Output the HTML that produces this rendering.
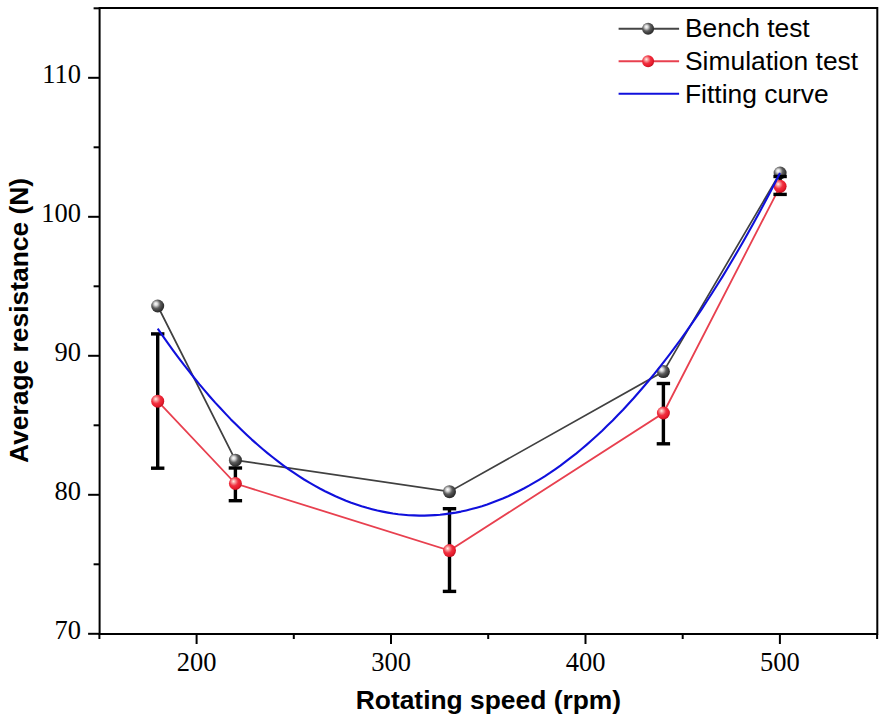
<!DOCTYPE html>
<html><head><meta charset="utf-8"><style>
html,body{margin:0;padding:0;background:#fff;width:886px;height:723px;overflow:hidden}
svg{display:block}
.t{font-family:"Liberation Serif",serif;font-size:26.5px;fill:#000}
.s{font-family:"Liberation Sans",sans-serif;font-size:26.4px;fill:#000}
.b{font-family:"Liberation Sans",sans-serif;font-size:26.4px;font-weight:bold;fill:#000}
</style></head><body>
<svg width="886" height="723" viewBox="0 0 886 723">
<defs>
<radialGradient id="gg" cx="0.4" cy="0.38" r="0.6" fx="0.35" fy="0.33">
<stop offset="0" stop-color="#ffffff"/><stop offset="0.22" stop-color="#d8d8d8"/><stop offset="0.55" stop-color="#5e5e5e"/><stop offset="0.85" stop-color="#3a3a3a"/><stop offset="1" stop-color="#2c2c2c"/></radialGradient>
<radialGradient id="rg" cx="0.4" cy="0.38" r="0.6" fx="0.35" fy="0.33">
<stop offset="0" stop-color="#fff4e8"/><stop offset="0.22" stop-color="#f8a0a0"/><stop offset="0.55" stop-color="#f03040"/><stop offset="0.85" stop-color="#e81c2c"/><stop offset="1" stop-color="#c81424"/></radialGradient>
</defs>

<g stroke="#000" stroke-width="2" fill="none" stroke-linecap="butt">
<rect x="99.6" y="8.0" width="777.6999999999999" height="626.0"/>
<line x1="88.1" y1="633.8" x2="99.6" y2="633.8"/>
<line x1="93.6" y1="564.3" x2="99.6" y2="564.3"/>
<line x1="88.1" y1="494.8" x2="99.6" y2="494.8"/>
<line x1="93.6" y1="425.3" x2="99.6" y2="425.3"/>
<line x1="88.1" y1="355.8" x2="99.6" y2="355.8"/>
<line x1="93.6" y1="286.3" x2="99.6" y2="286.3"/>
<line x1="88.1" y1="216.8" x2="99.6" y2="216.8"/>
<line x1="93.6" y1="147.3" x2="99.6" y2="147.3"/>
<line x1="88.1" y1="77.8" x2="99.6" y2="77.8"/>
<line x1="93.6" y1="8.3" x2="99.6" y2="8.3"/>
<line x1="99.4" y1="634.0" x2="99.4" y2="639.0"/>
<line x1="196.6" y1="634.0" x2="196.6" y2="644.0"/>
<line x1="293.8" y1="634.0" x2="293.8" y2="639.0"/>
<line x1="391.0" y1="634.0" x2="391.0" y2="644.0"/>
<line x1="488.2" y1="634.0" x2="488.2" y2="639.0"/>
<line x1="585.5" y1="634.0" x2="585.5" y2="644.0"/>
<line x1="682.7" y1="634.0" x2="682.7" y2="639.0"/>
<line x1="779.9" y1="634.0" x2="779.9" y2="644.0"/>
<line x1="877.1" y1="634.0" x2="877.1" y2="639.0"/>
</g>
<text class="t" x="81" y="638.8" text-anchor="end">70</text>
<text class="t" x="81" y="499.8" text-anchor="end">80</text>
<text class="t" x="81" y="360.8" text-anchor="end">90</text>
<text class="t" x="81" y="221.8" text-anchor="end">100</text>
<text class="t" x="81" y="82.8" text-anchor="end">110</text>
<text class="t" x="196.6" y="671" text-anchor="middle">200</text>
<text class="t" x="391.0" y="671" text-anchor="middle">300</text>
<text class="t" x="585.5" y="671" text-anchor="middle">400</text>
<text class="t" x="779.9" y="671" text-anchor="middle">500</text>
<text class="b" x="488.4" y="709" text-anchor="middle">Rotating speed (rpm)</text>
<text class="b" transform="translate(27.5,320.4) rotate(-90)" x="0" y="0" text-anchor="middle">Average resistance (N)</text>
<polyline fill="none" stroke="#404040" stroke-width="1.7" points="157.7,306.0 235.4,460.2 449.5,491.7 663.4,371.6 780.1,173.0"/>
<circle cx="157.7" cy="306.0" r="6.5" fill="url(#gg)"/>
<circle cx="235.4" cy="460.2" r="6.5" fill="url(#gg)"/>
<circle cx="449.5" cy="491.7" r="6.5" fill="url(#gg)"/>
<circle cx="663.4" cy="371.6" r="6.5" fill="url(#gg)"/>
<circle cx="780.1" cy="173.0" r="6.5" fill="url(#gg)"/>
<polyline fill="none" stroke="#e8404f" stroke-width="1.8" points="157.7,401.2 235.4,483.5 449.5,550.6 663.4,413.0 780.1,186.3"/>
<g stroke="#000" stroke-width="3.4" fill="none">
<line x1="157.7" y1="333.9" x2="157.7" y2="468.2"/><line x1="151.0" y1="333.9" x2="164.39999999999998" y2="333.9"/><line x1="151.0" y1="468.2" x2="164.39999999999998" y2="468.2"/>
<line x1="235.4" y1="468.0" x2="235.4" y2="500.7"/><line x1="228.70000000000002" y1="468.0" x2="242.1" y2="468.0"/><line x1="228.70000000000002" y1="500.7" x2="242.1" y2="500.7"/>
<line x1="449.5" y1="508.7" x2="449.5" y2="591.4"/><line x1="442.8" y1="508.7" x2="456.2" y2="508.7"/><line x1="442.8" y1="591.4" x2="456.2" y2="591.4"/>
<line x1="663.4" y1="383.5" x2="663.4" y2="443.8"/><line x1="656.6999999999999" y1="383.5" x2="670.1" y2="383.5"/><line x1="656.6999999999999" y1="443.8" x2="670.1" y2="443.8"/>
<line x1="780.1" y1="176.5" x2="780.1" y2="194.4"/><line x1="773.4" y1="176.5" x2="786.8000000000001" y2="176.5"/><line x1="773.4" y1="194.4" x2="786.8000000000001" y2="194.4"/>
</g>
<circle cx="157.7" cy="401.2" r="6.5" fill="url(#rg)"/>
<circle cx="235.4" cy="483.5" r="6.5" fill="url(#rg)"/>
<circle cx="449.5" cy="550.6" r="6.5" fill="url(#rg)"/>
<circle cx="663.4" cy="413.0" r="6.5" fill="url(#rg)"/>
<circle cx="780.1" cy="186.3" r="6.5" fill="url(#rg)"/>
<polyline fill="none" stroke="#1010dc" stroke-width="2.1" stroke-linejoin="round" points="157.7,328.7 162.9,336.2 168.2,343.6 173.4,350.8 178.6,357.8 183.8,364.7 189.1,371.4 194.3,378.0 199.5,384.4 204.8,390.6 210.0,396.7 215.2,402.6 220.5,408.3 225.7,413.9 230.9,419.4 236.1,424.6 241.4,429.8 246.6,434.8 251.8,439.6 257.1,444.2 262.3,448.8 267.5,453.1 272.7,457.3 278.0,461.4 283.2,465.3 288.4,469.1 293.7,472.7 298.9,476.1 304.1,479.5 309.4,482.6 314.6,485.6 319.8,488.5 325.0,491.2 330.3,493.8 335.5,496.3 340.7,498.5 346.0,500.7 351.2,502.7 356.4,504.5 361.6,506.2 366.9,507.8 372.1,509.2 377.3,510.5 382.6,511.6 387.8,512.6 393.0,513.5 398.3,514.2 403.5,514.7 408.7,515.2 413.9,515.4 419.2,515.6 424.4,515.6 429.6,515.4 434.9,515.1 440.1,514.7 445.3,514.1 450.5,513.4 455.8,512.6 461.0,511.6 466.2,510.4 471.5,509.1 476.7,507.7 481.9,506.2 487.2,504.5 492.4,502.6 497.6,500.6 502.8,498.5 508.1,496.2 513.3,493.8 518.5,491.2 523.8,488.5 529.0,485.7 534.2,482.7 539.4,479.6 544.7,476.3 549.9,472.9 555.1,469.3 560.4,465.6 565.6,461.7 570.8,457.7 576.1,453.6 581.3,449.3 586.5,444.9 591.7,440.3 597.0,435.5 602.2,430.7 607.4,425.6 612.7,420.5 617.9,415.1 623.1,409.7 628.3,404.0 633.6,398.3 638.8,392.3 644.0,386.3 649.3,380.0 654.5,373.7 659.7,367.1 665.0,360.4 670.2,353.6 675.4,346.6 680.6,339.5 685.9,332.2 691.1,324.7 696.3,317.1 701.6,309.3 706.8,301.3 712.0,293.2 717.2,285.0 722.5,276.6 727.7,268.0 732.9,259.2 738.2,250.3 743.4,241.2 748.6,232.0 753.9,222.6 759.1,213.0 764.3,203.3 769.5,193.4 774.8,183.3 780.0,173.0"/>
<line x1="618.6" y1="28.8" x2="679.1" y2="28.8" stroke="#454545" stroke-width="2"/>
<circle cx="648.1" cy="28.8" r="6" fill="url(#gg)"/>
<line x1="618.6" y1="61.3" x2="679.1" y2="61.3" stroke="#e8404f" stroke-width="2"/>
<circle cx="648.1" cy="61.3" r="6" fill="url(#rg)"/>
<line x1="618.6" y1="93.8" x2="679.1" y2="93.8" stroke="#1010dc" stroke-width="2"/>
<text class="s" x="685" y="37">Bench test</text>
<text class="s" x="685" y="69.8">Simulation test</text>
<text class="s" x="685" y="102.6">Fitting curve</text>
</svg></body></html>
